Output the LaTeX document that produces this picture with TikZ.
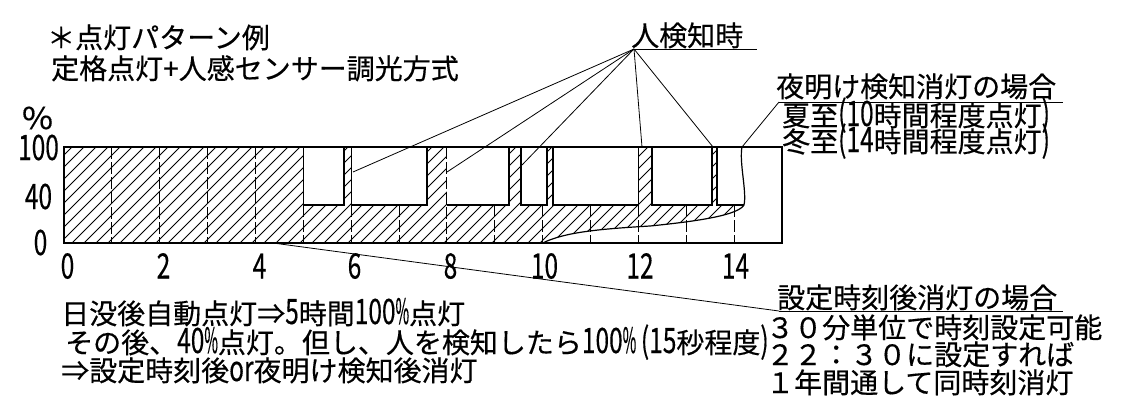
\documentclass[tikz,border=0pt]{standalone}
\usepackage{graphicx}
\usepackage{fontspec}
\setmainfont{Noto Sans CJK JP}[FakeBold=0.4]
\newcommand\ndig[1]{\scalebox{0.7}[1]{\fontsize{35}{35}\selectfont #1}}
\newcommand\npct{\scalebox{0.42}[1]{\fontsize{35}{35}\selectfont\%}}
\begin{document}
\begin{tikzpicture}[x=1pt,y=-1pt]
\tikzset{
  txt/.style={inner sep=0pt, font=\fontsize{28}{30}\selectfont},
  outl/.style={line width=1.2pt},
  hatchl/.style={line width=0.8pt},
  gridl/.style={line width=1pt, dash pattern=on 12pt off 3pt},
  leader/.style={line width=0.8pt},
}
\useasboundingbox (0,0) rectangle (1129,405);
\fill[white] (0,0) rectangle (1129,405);

% hatching
\begin{scope}
\clip (64,147) -- (742,147) .. controls (739,162) and (747,192) .. (744,205)
  .. controls (738,215) and (700,221) .. (650,226)
  .. controls (600,229) and (565,232) .. (542.7,243) -- (64,243) -- cycle;
\foreach \i in {-10,...,70} { \draw[hatchl] ({60+12*\i},243) -- ++(96,-96); }
\end{scope}

% white (unlit) boxes
\fill[white] (303.3,147) rectangle (344,205);
\fill[white] (351.2,147) rectangle (427,205);
\fill[white] (447,147) rectangle (509,205);
\fill[white] (521,147) rectangle (547,205);
\fill[white] (553,147) rectangle (638.4,205);
\fill[white] (652,147) rectangle (712,205);
\fill[white] (717,147) -- (717,205) -- (744,205) .. controls (747,192) and (739,162) .. (742,147) -- cycle;

% grid lines
\foreach \t in {1,2,3,4,8} { \draw[gridl] ({64+47.87*\t},147) -- ({64+47.87*\t},243); }
\foreach \t in {5,6,7,9,10,11,12,13,14} { \draw[gridl] ({64+47.87*\t},205) -- ({64+47.87*\t},243); }

% box edges
\draw[outl] (303.3,147) -- (303.3,205) -- (344,205) -- (344,147);
\draw[outl] (351.2,147) -- (351.2,205) -- (427,205) -- (427,147);
\draw[outl] (447,205) -- (509,205) -- (509,147);
\draw[outl] (521,147) -- (521,205) -- (547,205) -- (547,147);
\draw[outl] (553,147) -- (553,205) -- (638.4,205) -- (638.4,147);
\draw[outl] (652,147) -- (652,205) -- (712,205) -- (712,147);
\draw[outl] (717,147) -- (717,205) -- (744,205);
% dawn curve
\draw[outl] (742,147) .. controls (739,162) and (747,192) .. (744,205)
  .. controls (738,215) and (700,221) .. (650,226)
  .. controls (600,229) and (565,232) .. (542.7,243);
% frame
\draw[outl] (64,147) rectangle (782,243);

% axis labels
\node[txt] (pct) at (37.5,118) {\scalebox{1.12}[1]{\fontsize{30}{30}\selectfont\%}};
\node[txt, anchor=base] (y100) at (38.5,160) {\ndig{100}};
\node[txt, anchor=base] (y40) at (38.5,209) {\ndig{40}};
\node[txt, anchor=base] (y0) at (40.5,255) {\ndig{0}};
\node[txt, anchor=base] (x0) at (67.5,278.5) {\ndig{0}};
\node[txt, anchor=base] (x2) at (163.5,278.5) {\ndig{2}};
\node[txt, anchor=base] (x4) at (259.5,278.5) {\ndig{4}};
\node[txt, anchor=base] (x6) at (354.5,278.5) {\ndig{6}};
\node[txt, anchor=base] (x8) at (450.5,278.5) {\ndig{8}};
\node[txt, anchor=base] (x10) at (544.5,278.5) {\ndig{10}};
\node[txt, anchor=base] (x12) at (640,278.5) {\ndig{12}};
\node[txt, anchor=base] (x14) at (735.5,278.5) {\ndig{14}};

% titles
\node[txt, anchor=base west] (title) at (47,48) {＊点灯パターン例};
\node[txt, anchor=base west] (sub) at (51,79) {定格点灯+人感センサー調光方式};

% person detection
\node[txt, anchor=base west] (det) at (631,46) {人検知時};
\coordinate (apex) at (634,49);
\coordinate (detend) at (757,49);
\draw[leader] (apex) -- (detend);
\coordinate (s1) at (353,172);
\coordinate (s2) at (447,172);
\coordinate (s3) at (522,165);
\coordinate (s4) at (642,147);
\coordinate (s5) at (713,147);
\foreach \s in {s1,s2,s3,s4,s5} { \draw[leader] (apex) -- (\s); }

% dawn detection
\node[txt, anchor=base west] (dawn) at (776,97) {夜明け検知消灯の場合};
\node[txt, anchor=base west] (summer) at (782,126) {夏至\ndig{(10}時間程度点灯\ndig{)}};
\node[txt, anchor=base west] (winter) at (782,152) {冬至\ndig{(14}時間程度点灯\ndig{)}};
\coordinate (dawnul) at (779,102);
\coordinate (dawnulend) at (1063,102);
\coordinate (curvetop) at (742,147);
\draw[leader] (dawnul) -- (dawnulend);
\draw[leader] (dawnul) -- (curvetop);

% set time
\node[txt, anchor=base west] (settime) at (777,308) {設定時刻後消灯の場合};
\node[txt, anchor=base west] (st1) at (766,338) {３０分単位で時刻設定可能};
\node[txt, anchor=base west] (st2) at (766,365) {２２：３０に設定すれば};
\node[txt, anchor=base west] (st3) at (766,393) {１年間通して同時刻消灯};
\coordinate (setul) at (779,311);
\coordinate (setulend) at (1063,311);
\coordinate (offpt) at (273,243);
\draw[leader] (setul) -- (setulend);
\draw[leader] (offpt) -- (setul);

% explanation
\node[txt, anchor=base west] (la) at (61,324) {日没後自動点灯⇒\ndig{5}時間\ndig{100}\npct 点灯};
\node[txt, anchor=base west] (lb) at (65,353) {その後、\ndig{40}\npct 点灯。但し、人を検知したら\ndig{100}\npct\,\ndig{(15}秒程度\ndig{)}};
\node[txt, anchor=base west] (lc) at (61,381) {⇒設定時刻後\ndig{or}夜明け検知後消灯};
\end{tikzpicture}
\end{document}
